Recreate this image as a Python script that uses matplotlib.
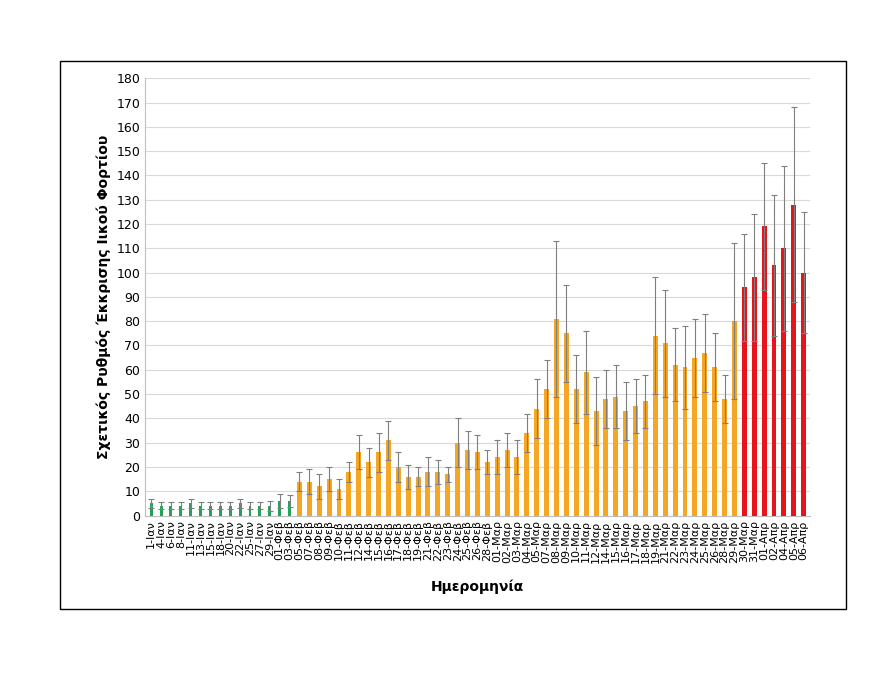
import matplotlib
matplotlib.use('Agg')
import matplotlib.pyplot as plt
from matplotlib.patches import Rectangle

# green period
green_labels = ['1-Ιαν', '4-Ιαν', '6-Ιαν', '8-Ιαν', '11-Ιαν', '13-Ιαν', '15-Ιαν', '18-Ιαν',
                '20-Ιαν', '22-Ιαν', '25-Ιαν', '27-Ιαν', '29-Ιαν', '01-Φεβ', '03-Φεβ']
green_vals = [5, 4, 4, 4, 5, 4, 4, 4, 4, 5, 4, 4, 4, 6, 6]
green_err = [2, 1.5, 1.5, 1.5, 2, 1.5, 1.5, 1.5, 1.5, 2, 1.5, 1.5, 2, 3, 2.5]

# orange period
orange_labels = ['05-Φεβ', '07-Φεβ', '08-Φεβ', '09-Φεβ', '10-Φεβ', '11-Φεβ', '12-Φεβ', '14-Φεβ',
                 '15-Φεβ', '16-Φεβ', '17-Φεβ', '18-Φεβ', '19-Φεβ', '21-Φεβ', '22-Φεβ', '23-Φεβ',
                 '24-Φεβ', '25-Φεβ', '26-Φεβ', '28-Φεβ',
                 '01-Μαρ', '02-Μαρ', '03-Μαρ', '04-Μαρ', '05-Μαρ', '07-Μαρ', '08-Μαρ', '09-Μαρ',
                 '10-Μαρ', '11-Μαρ', '12-Μαρ', '14-Μαρ', '15-Μαρ', '16-Μαρ', '17-Μαρ', '18-Μαρ',
                 '19-Μαρ', '21-Μαρ', '22-Μαρ', '23-Μαρ', '24-Μαρ', '25-Μαρ', '26-Μαρ', '28-Μαρ',
                 '29-Μαρ']
orange_vals = [14, 14, 12, 15, 11, 18, 26, 22, 26, 31, 20, 16, 16, 18, 18, 17, 30, 27, 26, 22,
               24, 27, 24, 34, 44, 52, 81, 75, 52, 59, 43, 48, 49, 43, 45, 47, 74, 71, 62, 61,
               65, 67, 61, 48, 80]
orange_hi = [18, 19, 17, 20, 15, 22, 33, 28, 34, 39, 26, 21, 20, 24, 23, 20, 40, 35, 33, 27,
             31, 34, 31, 42, 56, 64, 113, 95, 66, 76, 57, 60, 62, 55, 56, 58, 98, 93, 77, 78,
             81, 83, 75, 58, 112]

# red period
red_labels = ['30-Μαρ', '31-Μαρ', '01-Απρ', '02-Απρ', '04-Απρ', '05-Απρ', '06-Απρ']
red_vals = [94, 98, 119, 103, 110, 128, 100]
red_hi = [116, 124, 145, 132, 144, 168, 125]

labels = green_labels + orange_labels + red_labels
fig = plt.figure(figsize=(8.8, 6.81), dpi=100)
fig.patches.append(Rectangle((0.068, 0.105), 0.893, 0.805, transform=fig.transFigure,
                             fill=False, edgecolor='black', linewidth=1))
ax = fig.add_axes([0.165, 0.243, 0.755, 0.642])

n_g, n_o = len(green_vals), len(orange_vals)
xg = list(range(n_g))
xo = list(range(n_g, n_g + n_o))
xr = list(range(n_g + n_o, len(labels)))
ekw = dict(ecolor='#7f7f7f', capsize=2, elinewidth=0.8, capthick=0.8)

ax.bar(xg, green_vals, width=0.3, color='#22a357', yerr=green_err, error_kw=ekw, zorder=3)
ax.bar(xo, orange_vals, width=0.5, color='#f5a623',
       yerr=[h - v for h, v in zip(orange_hi, orange_vals)], error_kw=ekw, zorder=3)
ax.bar(xr, red_vals, width=0.5, color='#e8141c',
       yerr=[h - v for h, v in zip(red_hi, red_vals)], error_kw=ekw, zorder=3)

ax.set_xlim(-0.6, len(labels) - 0.4)
ax.set_ylim(0, 180)
ax.set_yticks(range(0, 181, 10))
ax.set_xticks(range(len(labels)))
ax.set_xticklabels(labels, rotation=90, fontsize=8, family='DejaVu Sans')
ax.tick_params(axis='y', labelsize=9, length=0)
ax.tick_params(axis='x', length=0)
ax.grid(axis='y', color='#d9d9d9', linewidth=0.8, zorder=0)
for s in ['top', 'right']:
    ax.spines[s].set_visible(False)
ax.spines['left'].set_color('#bfbfbf')
ax.spines['bottom'].set_color('#bfbfbf')
ax.set_ylabel('Σχετικός Ρυθμός Έκκρισης Ιικού Φορτίου', fontsize=10, fontweight='bold')
ax.set_xlabel('Ημερομηνία', fontsize=10, fontweight='bold', labelpad=12)

plt.savefig('out.png')
